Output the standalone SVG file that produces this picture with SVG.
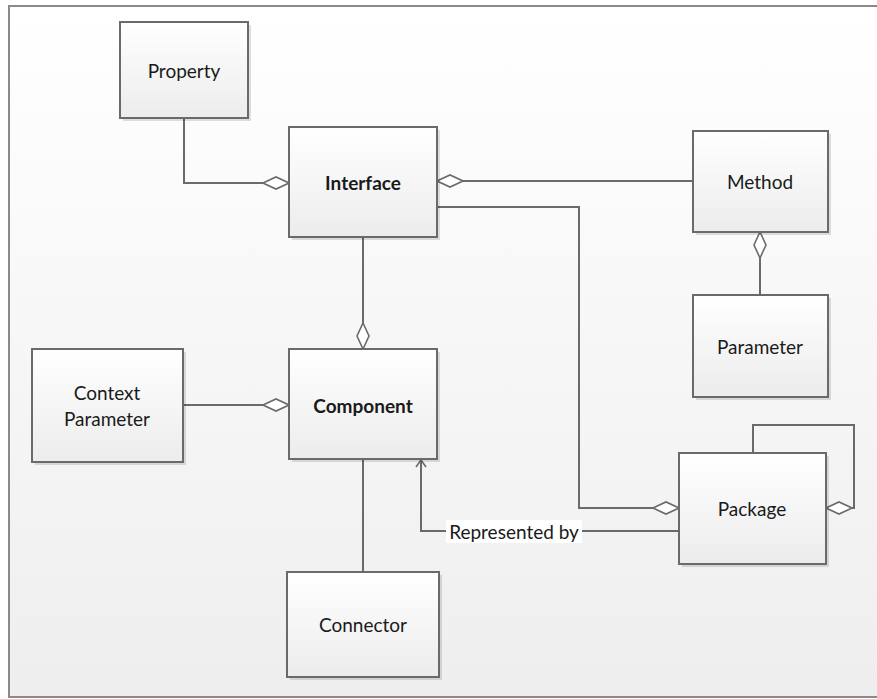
<svg xmlns="http://www.w3.org/2000/svg" width="877" height="699" viewBox="0 0 877 699">
<defs>
<linearGradient id="bg" x1="0" y1="0" x2="0" y2="1">
<stop offset="0" stop-color="#ffffff"/>
<stop offset="1" stop-color="#eeeeee"/>
</linearGradient>
<linearGradient id="nodeFill" x1="0" y1="0" x2="0" y2="1">
<stop offset="0" stop-color="#ffffff"/>
<stop offset="1" stop-color="#ececec"/>
</linearGradient>
<marker id="diamond" viewBox="0 0 28 14" markerWidth="28" markerHeight="14" refX="27" refY="7" orient="auto" markerUnits="userSpaceOnUse">
<path d="M1,7 L14,1 L27,7 L14,13 Z" fill="#ffffff" stroke="#6a6a6a" stroke-width="1.6"/>
</marker>
<marker id="open" viewBox="0 0 12 12" markerWidth="12" markerHeight="12" refX="11" refY="6" orient="auto" markerUnits="userSpaceOnUse">
<path d="M4,1 L11,6 L4,11" fill="none" stroke="#6a6a6a" stroke-width="1.6"/>
</marker>
</defs>
<style>
.node rect.box{fill:url(#nodeFill);stroke:#6a6a6a;stroke-width:2}
.node rect.sh{fill:#000;opacity:0.12}
.lbl{font-family:Lato,"Open Sans","Liberation Sans",sans-serif;font-size:19px;fill:#1a1a1a;text-anchor:middle;dominant-baseline:central}
.b{font-weight:bold}
.edge{fill:none;stroke:#6a6a6a;stroke-width:2}
</style>
<rect x="9" y="6" width="880" height="691" fill="url(#bg)" stroke="#8a8a8a" stroke-width="2"/>
<g id="connectors">
<path class="edge" d="M184,118 V183 H289" marker-end="url(#diamond)"/>
<path class="edge" d="M693,181 H437" marker-end="url(#diamond)"/>
<path class="edge" d="M437,207 H579 V508 H679" marker-end="url(#diamond)"/>
<path class="edge" d="M760,295 V232" marker-end="url(#diamond)"/>
<path class="edge" d="M363,237 V349" marker-end="url(#diamond)"/>
<path class="edge" d="M183,405 H289" marker-end="url(#diamond)"/>
<path class="edge" d="M363,459 V572"/>
<path class="edge" d="M753,453 V425 H854 V508 H826" marker-end="url(#diamond)"/>
<path class="edge" d="M679,531 H421 V460" marker-end="url(#open)"/>
<rect x="446" y="520" width="136" height="23" fill="#ffffff"/>
<text class="lbl" x="514" y="531">Represented by</text>
</g>
<g id="property" class="node">
<rect class="sh" x="123" y="25" width="128" height="96"/>
<rect class="box" x="120" y="22" width="128" height="96"/>
<text class="lbl" x="184" y="70">Property</text>
</g>
<g id="interface" class="node">
<rect class="sh" x="292" y="130" width="148" height="110"/>
<rect class="box" x="289" y="127" width="148" height="110"/>
<text class="lbl b" x="363" y="182">Interface</text>
</g>
<g id="method" class="node">
<rect class="sh" x="696" y="134" width="135" height="101"/>
<rect class="box" x="693" y="131" width="135" height="101"/>
<text class="lbl" x="760" y="181">Method</text>
</g>
<g id="parameter" class="node">
<rect class="sh" x="696" y="298" width="135" height="102"/>
<rect class="box" x="693" y="295" width="135" height="102"/>
<text class="lbl" x="760" y="346">Parameter</text>
</g>
<g id="context-parameter" class="node">
<rect class="sh" x="35" y="352" width="151" height="113"/>
<rect class="box" x="32" y="349" width="151" height="113"/>
<text class="lbl" x="107" y="392">Context</text>
<text class="lbl" x="107" y="418">Parameter</text>
</g>
<g id="component" class="node">
<rect class="sh" x="292" y="352" width="148" height="110"/>
<rect class="box" x="289" y="349" width="148" height="110"/>
<text class="lbl b" x="363" y="405">Component</text>
</g>
<g id="package" class="node">
<rect class="sh" x="682" y="456" width="147" height="111"/>
<rect class="box" x="679" y="453" width="147" height="111"/>
<text class="lbl" x="752" y="508">Package</text>
</g>
<g id="connector" class="node">
<rect class="sh" x="290" y="575" width="152" height="105"/>
<rect class="box" x="287" y="572" width="152" height="105"/>
<text class="lbl" x="363" y="624">Connector</text>
</g>
</svg>
